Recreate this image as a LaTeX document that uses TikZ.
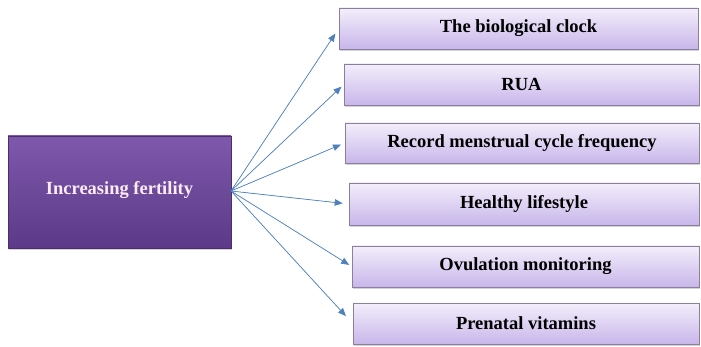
\documentclass[tikz,border=0pt]{standalone}
\usepackage{fontspec}
\setmainfont{Liberation Serif}
\usepackage{xcolor}
\usetikzlibrary{shapes, positioning, shadows, arrows.meta}

\definecolor{mainTop}{HTML}{7E58AC}
\definecolor{mainBot}{HTML}{5C3A88}
\definecolor{itemTop}{HTML}{F3EEFB}
\definecolor{itemBot}{HTML}{C8B6EA}
\definecolor{itemLine}{HTML}{8C7F9E}
\definecolor{arrowBlue}{HTML}{4F81BD}

\tikzset{
  mainbox/.style={draw=mainBot!80!black, line width=0.4pt, top color=mainTop, bottom color=mainBot,
    text=white!92!magenta, minimum width=223pt, minimum height=112pt, inner sep=0pt,
    drop shadow={shadow xshift=1pt, shadow yshift=-2pt, opacity=0.35}},
  itembox/.style={draw=itemLine, line width=0.6pt, top color=itemTop, bottom color=itemBot,
    text=black, minimum height=41pt, inner sep=0pt,
    drop shadow={shadow xshift=1pt, shadow yshift=-2pt, opacity=0.35}},
  fanarrow/.style={draw=arrowBlue, line width=0.7pt, -{Triangle[length=8pt,width=6.5pt]}, fill=arrowBlue}
}

\begin{document}
\begin{tikzpicture}[x=1pt, y=-1pt, font=\fontsize{18.5}{20}\selectfont\bfseries]
        \useasboundingbox (0,0) rectangle (701,347);

        \node[mainbox] (M) at (119.5,192) {\raisebox{9pt}{Increasing fertility}};
        \coordinate (hub) at (231,191);

        \node[itembox, minimum width=359pt] (B1) at (518.5,28.5) {The biological clock};
        \node[itembox, minimum width=355pt] (B2) at (521.5,84.5) {RUA};
        \node[itembox, minimum width=354pt, minimum height=40pt] (B3) at (522,143) {Record menstrual cycle frequency};
        \node[itembox, minimum width=350pt, minimum height=42pt] (B4) at (524,204) {Healthy lifestyle};
        \node[itembox, minimum width=347pt] (B5) at (525.5,266.5) {Ovulation monitoring};
        \node[itembox, minimum width=346pt] (B6) at (526,323.5) {Prenatal vitamins};

        \foreach \b/\s in {B1/6, B2/3, B3/4, B4/6, B5/3, B6/10}
          \draw[fanarrow, shorten >=\s pt] (hub) -- (\b.west);
      \end{tikzpicture}
\end{document}
